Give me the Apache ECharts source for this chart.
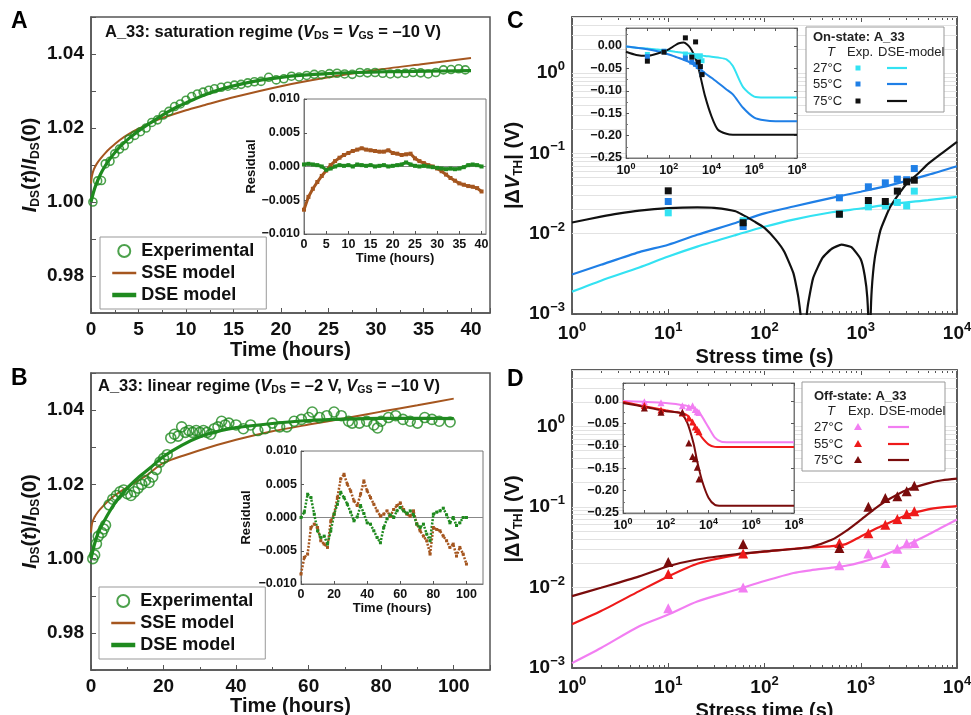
<!DOCTYPE html>
<html>
<head>
<meta charset="utf-8">
<title>A_33 stress</title>
<script src="https://cdn.jsdelivr.net/npm/echarts@6/dist/echarts.min.js"></script>
<style>
  html, body { margin: 0; padding: 0; background: #fff; }
  #chart { width: 971px; height: 715px; }
</style>
</head>
<body>
<div id="chart"></div>
<script>
// ---------- panel A : saturation regime ----------
var hoursA = [0.2, 0.7, 1.1, 1.5, 2.0, 2.5, 3.0, 3.5, 4.0, 4.6,
  5.2, 5.8, 6.4, 7.0, 7.6, 8.2, 8.8, 9.4, 10.0, 10.6,
  11.2, 11.8, 12.4, 13.0, 13.7, 14.4, 15.1, 15.8, 16.5, 17.2,
  17.9, 18.7, 19.5, 20.3, 21.1, 21.9, 22.7, 23.5, 24.3, 25.1,
  25.9, 26.7, 27.5, 28.3, 29.1, 29.9, 30.7, 31.5, 32.3, 33.1,
  33.9, 34.7, 35.5, 36.3, 37.1, 37.9, 38.7, 39.4];
var expA = [1.0000, 1.0057, 1.0058, 1.0103, 1.0110, 1.0130, 1.0143, 1.0152, 1.0170, 1.0180,
  1.0190, 1.0200, 1.0215, 1.0222, 1.0235, 1.0245, 1.0258, 1.0265, 1.0275, 1.0285,
  1.0292, 1.0297, 1.0302, 1.0306, 1.0310, 1.0313, 1.0316, 1.0318, 1.0322, 1.0325,
  1.0326, 1.0337, 1.0330, 1.0333, 1.0340, 1.0338, 1.0342, 1.0345, 1.0344, 1.0347,
  1.0348, 1.0346, 1.0345, 1.0350, 1.0349, 1.0350, 1.0348, 1.0346, 1.0347, 1.0348,
  1.0350, 1.0349, 1.0346, 1.0350, 1.0357, 1.0358, 1.0360, 1.0357];
var dseHoursA = [0, 0.25, 0.5, 1, 1.5, 2, 3, 4, 5, 6, 7, 8, 9, 10, 12, 14, 16, 18, 20, 22, 25, 28, 31, 34, 37, 40];
var dseA = [1.0000, 1.0025, 1.0045, 1.0075, 1.0098, 1.0117, 1.0148, 1.0172, 1.0192, 1.0210, 1.0226, 1.0242, 1.0256,
  1.0268, 1.0290, 1.0307, 1.0320, 1.0330, 1.0337, 1.0342, 1.0347, 1.0350, 1.0352, 1.0353, 1.0354, 1.0355];
var sseHoursA = [0, 0.1, 0.3, 0.6, 1, 1.5, 2, 3, 4, 5, 7, 10, 12, 15, 20, 25, 30, 35, 40];
var sseA = [1.0050, 1.0070, 1.0088, 1.0103, 1.0117, 1.0132, 1.0145, 1.0167, 1.0184, 1.0198, 1.0222, 1.0248,
  1.0262, 1.0283, 1.0313, 1.0337, 1.0357, 1.0373, 1.0389];
var resHoursA = [0, 1, 2, 3, 4, 5, 6, 7, 8, 9, 10, 11, 12, 13, 14, 15, 16, 17, 18, 19, 20,
  21, 22, 23, 24, 25, 26, 27, 28, 29, 30, 31, 32, 33, 34, 35, 36, 37, 38, 39, 40];
var sseResA = [-0.0064, -0.0045, -0.0033, -0.0023, -0.0014, -0.0006, 0.0002, 0.0008, 0.0013, 0.0017,
  0.0020, 0.0023, 0.0025, 0.0027, 0.0025, 0.0024, 0.0023, 0.0022, 0.0022, 0.0024,
  0.0020, 0.0019, 0.0017, 0.0018, 0.0019, 0.0012, 0.0008, 0.0005, 0.0002, 0.0000,
  -0.0003, -0.0007, -0.0012, -0.0017, -0.0021, -0.0025, -0.0027, -0.0029, -0.0030, -0.0032, -0.0037];
var dseResA = [0.0003, 0.0004, 0.0003, 0.0002, 0.0000, -0.0005, -0.0003, 0.0000, 0.0002, 0.0001,
  0.0002, 0.0000, 0.0003, 0.0002, 0.0001, 0.0002, 0.0000, 0.0001, 0.0002, 0.0000,
  0.0001, 0.0002, 0.0003, 0.0006, 0.0003, 0.0001, 0.0000, 0.0001, 0.0000, -0.0001,
  -0.0002, -0.0003, -0.0004, -0.0003, -0.0004, -0.0003, -0.0001, 0.0002, 0.0003, 0.0002, 0.0000];

// ---------- panel B : linear regime ----------
var hoursB = [0.5, 1, 1.5, 2, 3, 3.5, 4,
  5, 6, 7, 8, 9, 10, 11, 12, 13, 14,
  15, 16, 17, 18, 19, 20, 21, 22, 23, 24,
  25, 26, 27, 28, 29, 30, 31, 32, 33, 34,
  35, 36, 37, 38,
  40, 42, 44, 46, 48, 50, 52, 54, 56, 58, 60,
  61, 63, 65, 67, 69, 71, 72, 74, 76, 78,
  79, 80, 82, 84, 86, 88, 90, 92, 94, 96, 99];
var expB = [1.000, 1.001, 1.004, 1.006, 1.007, 1.008, 1.009,
  1.0145, 1.016, 1.017, 1.018, 1.0185, 1.0175, 1.017, 1.018, 1.019, 1.020,
  1.021, 1.0205, 1.022, 1.024, 1.026, 1.027, 1.028, 1.0325, 1.0335, 1.033,
  1.0355, 1.034, 1.0345, 1.034, 1.0345, 1.034, 1.0345, 1.034, 1.0335, 1.035,
  1.0355, 1.037, 1.036, 1.0365,
  1.036, 1.035, 1.036, 1.0345, 1.035, 1.0365, 1.0355, 1.0355, 1.037, 1.0375, 1.038,
  1.0395, 1.038, 1.0385, 1.0395, 1.0385, 1.037, 1.0365, 1.0365, 1.037, 1.036,
  1.0352, 1.037, 1.038, 1.0385, 1.0375, 1.037, 1.0365, 1.038, 1.0375, 1.037, 1.0368];
var dseHoursB = [0, 1, 2, 3, 5, 7, 10, 13, 16, 20, 25, 30, 35, 40, 50, 60, 70, 80, 90, 100];
var dseB = [1.000, 1.004, 1.007, 1.009, 1.0125, 1.0155, 1.0190, 1.0218, 1.0242, 1.0275, 1.0305, 1.0328,
  1.0343, 1.0353, 1.0364, 1.0372, 1.0376, 1.0378, 1.0378, 1.0377];
var sseHoursB = [0, 0.3, 1, 2, 3, 5, 8, 10, 15, 20, 30, 40, 50, 60, 70, 80, 90, 100];
var sseB = [1.0070, 1.0095, 1.0112, 1.0127, 1.0138, 1.0158, 1.0180, 1.0192, 1.0222, 1.0258, 1.0292, 1.0320,
  1.0343, 1.0361, 1.0378, 1.0396, 1.0413, 1.0431];
var resHoursB = [0, 2, 4, 6, 8, 10, 12, 14, 16, 18, 20, 22, 24, 26, 28, 30, 32, 34, 36, 38, 40,
  42, 44, 46, 48, 50, 52, 54, 56, 58, 60, 62, 64, 66, 68, 70, 72, 74, 76, 78, 80,
  82, 84, 86, 88, 90, 92, 94, 96, 98, 100];
var dseResB = [0.0000, 0.0008, 0.0035, 0.0030, 0.0005, -0.0020, -0.0030, -0.0028, -0.0040, -0.0020,
  0.0005, 0.0020, 0.0038, 0.0030, 0.0020, 0.0008, -0.0005, 0.0001, 0.0018, 0.0006,
  -0.0008, -0.0010, -0.0020, -0.0030, -0.0038, -0.0015, -0.0002, 0.0004, 0.0000, 0.0010,
  0.0015, 0.0010, 0.0006, 0.0010, 0.0004, -0.0010, -0.0015, -0.0010, -0.0025, -0.0035,
  0.0005, 0.0008, 0.0010, 0.0014, 0.0004, -0.0008, 0.0000, -0.0012, -0.0008, 0.0000, 0.0000];
var sseResB = [-0.0085, -0.0060, -0.0055, -0.0015, -0.0010, -0.0015, -0.0035, -0.0040, -0.0045, -0.0005,
  0.0005, 0.0030, 0.0058, 0.0065, 0.0050, 0.0040, 0.0025, 0.0018, 0.0035, 0.0055,
  0.0040, 0.0030, 0.0020, 0.0010, 0.0002, 0.0005, 0.0010, 0.0002, 0.0012, 0.0018,
  0.0022, 0.0012, 0.0005, 0.0002, 0.0010, -0.0010, -0.0020, -0.0028, -0.0035, -0.0055,
  -0.0015, -0.0018, -0.0020, -0.0028, -0.0035, -0.0045, -0.0040, -0.0058, -0.0045, -0.0055, -0.0070];

// ---------- panels C / D : stress times of the measurements ----------
var stressT = [10, 60, 600, 1200, 1800, 2400, 3000, 3600];

// C: on-state, |dVth| (main) and signed dVth (inset)
var onExp27 = [0.0182, 0.0145, 0.0175, 0.0216, 0.0222, 0.0245, 0.0222, 0.0339];
var onExp55 = [0.0252, 0.0123, 0.0280, 0.0384, 0.0430, 0.0478, 0.0470, 0.0648];
var onExp75 = [0.0342, 0.0137, 0.0175, 0.0259, 0.0252, 0.0339, 0.0443, 0.0464];
var onIns27 = [-0.019, -0.012, -0.018, -0.021, -0.022, -0.024, -0.022, -0.033];
var onIns55 = [-0.024, -0.012, -0.027, -0.036, -0.041, -0.046, -0.047, -0.062];
var onIns75 = [-0.034, -0.014, 0.018, -0.025, 0.009, -0.036, -0.046, -0.064];
var onT = [1, 2, 5, 10, 20, 50, 100, 200, 500, 1000, 2000, 5000, 10000];
var on27 = [0.0019, 0.0026, 0.0038, 0.0052, 0.0069, 0.0096, 0.0122, 0.0150, 0.0185, 0.0206, 0.0232, 0.0262, 0.0288];
var on55 = [0.0031, 0.0041, 0.0059, 0.0073, 0.0097, 0.0136, 0.0179, 0.0218, 0.0280, 0.0333, 0.0400, 0.0540, 0.0693];
var on75T = [1, 2, 3, 5, 10, 20, 30, 50, 80, 100, 130, 160, 200, 225, 245, 252, 260, 280, 320, 400,
  500, 630, 800, 1000, 1100, 1170, 1215, 1235, 1260, 1300, 1400, 1600, 2000, 2500, 3000, 4000, 5000, 7000, 10000];
var on75 = [0.0138, 0.0163, 0.0178, 0.0194, 0.0208, 0.0213, 0.0210, 0.0190, 0.0140, 0.0118,
  0.0085, 0.0060, 0.0032, 0.0016, 0.0006, 0.0001, 0.0004, 0.0012, 0.0028, 0.0050,
  0.0065, 0.0073, 0.0068, 0.0048, 0.0030, 0.0016, 0.0005, 0.0001, 0.0007, 0.0020,
  0.0050, 0.0110, 0.0210, 0.0315, 0.0420, 0.0570, 0.0740, 0.1010, 0.1390];
var onInsT = [1, 3, 10, 30, 100, 200, 300, 500, 1000, 2000, 3000, 5000, 1e4, 2e4, 5e4, 1e5, 3e5, 1e6, 3e6, 1e7, 1e8];
var onInsM27 = [-0.0015, -0.004, -0.006, -0.008, -0.011, -0.013, -0.014, -0.0155, -0.017, -0.020, -0.021,
  -0.0225, -0.024, -0.026, -0.030, -0.045, -0.092, -0.113, -0.115, -0.115, -0.115];
var onInsM55 = [-0.0015, -0.004, -0.0075, -0.012, -0.019, -0.024, -0.027, -0.031, -0.037, -0.046, -0.052,
  -0.061, -0.071, -0.082, -0.097, -0.108, -0.138, -0.160, -0.166, -0.168, -0.168];
var onInsM75 = [-0.013, -0.020, -0.022, -0.017, -0.0075, 0.0015, 0.006, 0.0075, -0.004, -0.034, -0.067,
  -0.112, -0.157, -0.187, -0.196, -0.198, -0.198, -0.198, -0.198, -0.198, -0.198];

// D: off-state
var offExp27 = [0.0055, 0.0100, 0.0188, 0.0263, 0.0201, 0.0303, 0.0350, 0.0356];
var offExp55 = [0.0147, 0.0263, 0.0357, 0.0470, 0.0600, 0.0708, 0.0817, 0.0880];
var offExp75 = [0.0207, 0.0347, 0.0309, 0.1000, 0.1290, 0.1350, 0.1560, 0.1830];
var offIns27 = [-0.002, -0.004, -0.011, -0.014, -0.011, -0.019, -0.024, -0.026];
var offIns55 = [-0.010, -0.020, -0.027, -0.038, -0.047, -0.058, -0.064, -0.069];
var offIns75 = [-0.016, -0.025, -0.025, -0.094, -0.124, -0.129, -0.148, -0.174];
var offT = [1, 2, 5, 10, 20, 50, 100, 200, 300, 500, 700, 1000, 1500, 2000, 3000, 5000, 7000, 10000];
var off27 = [0.00115, 0.00177, 0.0033, 0.0046, 0.0067, 0.0093, 0.0120, 0.0151, 0.0163, 0.0176, 0.0186,
  0.0205, 0.0237, 0.0270, 0.0335, 0.0452, 0.0560, 0.0695];
var off55 = [0.0035, 0.0051, 0.0090, 0.0137, 0.0197, 0.0252, 0.0278, 0.0302, 0.0315, 0.0325, 0.0345,
  0.0430, 0.0550, 0.0640, 0.0790, 0.0930, 0.0985, 0.1020];
var off75 = [0.0078, 0.0099, 0.0137, 0.0183, 0.0222, 0.0258, 0.0280, 0.0300, 0.0318, 0.0390, 0.0500,
  0.0690, 0.1010, 0.1260, 0.1620, 0.1960, 0.2140, 0.2240];
var offInsT = [1, 10, 100, 300, 500, 1000, 2000, 3000, 5000, 1e4, 2e4, 4e4, 1e5, 1e6, 1e7, 1e8];
var offInsM27 = [0.000, -0.002, -0.0045, -0.007, -0.009, -0.011, -0.016, -0.021, -0.035, -0.059, -0.082,
  -0.091, -0.092, -0.092, -0.092, -0.092];
var offInsM55 = [-0.002, -0.012, -0.021, -0.025, -0.027, -0.032, -0.051, -0.066, -0.082, -0.097, -0.1025,
  -0.103, -0.103, -0.103, -0.103, -0.103];
var offInsM75 = [-0.0045, -0.013, -0.023, -0.025, -0.027, -0.048, -0.095, -0.136, -0.178, -0.216, -0.232,
  -0.234, -0.234, -0.234, -0.234, -0.234];

var tempNames = ['27°C', '55°C', '75°C'];
var gridDecades = [0.001, 0.01, 0.1, 1];
var gridMults = [1, 2, 3, 4, 5, 6, 7, 8, 9];

// ---------- styling ----------
var FONT = '"Liberation Sans", Arial, Helvetica, sans-serif';
var AXC = '#555';
var GREEN = '#1f8a1f', BROWN = '#a5561f';
var CYAN = '#33e2f2', BLUE = '#1f7fe6', BLACK = '#111111';
var PINK = '#f27ef2', RED = '#ee1a1a', DARK = '#7a0c0c';

function pairs(xs, ys) {
  return xs.map(function (x, i) { return [x, ys[i]]; });
}

function mkAxis(o) {
  var base = {
    axisLine: { show: true, onZero: false, lineStyle: { color: AXC, width: 1.5 } },
    axisTick: { show: true, inside: true, length: 5, lineStyle: { color: AXC, width: 1 } },
    splitLine: { show: false },
    axisLabel: { color: '#111', fontWeight: 'bold', fontFamily: FONT, fontSize: 19, margin: 7 },
    nameLocation: 'middle',
    nameTextStyle: { color: '#111', fontWeight: 'bold', fontFamily: FONT, fontSize: 20 }
  };
  for (var k in o) {
    if (base[k] && typeof base[k] === 'object' && typeof o[k] === 'object' && !Array.isArray(o[k])) {
      base[k] = Object.assign({}, base[k], o[k]);
    } else {
      base[k] = o[k];
    }
  }
  return base;
}

var SUB_RICH = {
  it: { fontStyle: 'italic', fontWeight: 'bold', fontFamily: FONT, fontSize: 20, lineHeight: 24 },
  sub: { fontWeight: 'bold', fontFamily: FONT, fontSize: 12, lineHeight: 12, verticalAlign: 'bottom' }
};

function powLabel(v) {
  var e = Math.log10(v), r = Math.round(e);
  if (Math.abs(e - r) > 1e-6) return '';
  return '10{s|' + (r < 0 ? '−' + (-r) : r) + '}';
}
function powLabelEven(v) {
  var e = Math.log10(v), r = Math.round(e);
  if (Math.abs(e - r) > 1e-6 || r % 2 !== 0) return '';
  return '10{s|' + r + '}';
}
var SUP_BIG = { s: { fontSize: 13, fontWeight: 'bold', fontFamily: FONT, lineHeight: 13, verticalAlign: 'top' } };
var SUP_SMALL = { s: { fontSize: 9, fontWeight: 'bold', fontFamily: FONT, lineHeight: 9, verticalAlign: 'top' } };

function fixedLabel(dec, step) {
  return function (v) {
    var n = v / step;
    if (Math.abs(n - Math.round(n)) > 1e-6) return '';
    var s = Math.abs(v).toFixed(dec);
    return (v < -1e-9 ? '−' : '') + s;
  };
}

var INS_LABEL = { fontSize: 12.5, margin: 4 };
var INS_NAME = { fontSize: 13 };

// ---------- grids ----------
var grids = [
  { left: 91, top: 17, width: 399, height: 296 },           // 0 A
  { left: 304, top: 99, width: 182, height: 135, z: 5 },    // 1 A inset
  { left: 91, top: 373, width: 399, height: 297 },          // 2 B
  { left: 301, top: 451, width: 182, height: 133, z: 5 },   // 3 B inset
  { left: 572, top: 17, width: 385, height: 297 },          // 4 C
  { left: 626, top: 28, width: 171, height: 130, z: 5 },    // 5 C inset
  { left: 572, top: 370, width: 385, height: 298 },         // 6 D
  { left: 623, top: 383, width: 171, height: 130, z: 5 }    // 7 D inset
].map(function (g) {
  return Object.assign({
    show: true, containLabel: false, outerBoundsMode: 'none',
    backgroundColor: '#fff', borderColor: AXC, borderWidth: 1.5
  }, g);
});
grids[1].borderColor = grids[3].borderColor = grids[5].borderColor = grids[7].borderColor = '#777';
grids[1].borderWidth = grids[3].borderWidth = grids[5].borderWidth = grids[7].borderWidth = 1;

var INZ = 6;
var xAxes = [
  mkAxis({ gridIndex: 0, type: 'value', min: 0, max: 42, interval: 5,
    minorTick: { show: true, splitNumber: 2, length: 3, lineStyle: { color: AXC } },
    axisLabel: { showMaxLabel: false }, name: 'Time (hours)', nameGap: 27 }),
  mkAxis({ gridIndex: 1, type: 'value', min: 0, max: 41, interval: 5, z: INZ,
    axisLine: { lineStyle: { color: '#777', width: 1 } }, axisTick: { length: 3 },
    axisLabel: Object.assign({ showMaxLabel: false }, INS_LABEL),
    name: 'Time (hours)', nameGap: 18, nameTextStyle: INS_NAME }),
  mkAxis({ gridIndex: 2, type: 'value', min: 0, max: 110, interval: 20,
    minorTick: { show: true, splitNumber: 2, length: 3, lineStyle: { color: AXC } },
    axisLabel: { showMaxLabel: false }, name: 'Time (hours)', nameGap: 25 }),
  mkAxis({ gridIndex: 3, type: 'value', min: 0, max: 110, interval: 20, z: INZ,
    axisLine: { lineStyle: { color: '#777', width: 1 } }, axisTick: { length: 3 },
    axisLabel: Object.assign({ showMaxLabel: false }, INS_LABEL),
    name: 'Time (hours)', nameGap: 18, nameTextStyle: INS_NAME }),
  mkAxis({ gridIndex: 4, type: 'log', logBase: 10, min: 1, max: 1e4,
    minorTick: { show: true, splitNumber: 9, length: 3, lineStyle: { color: AXC } },
    axisLabel: { formatter: powLabel, rich: SUP_BIG, lineHeight: 26 }, name: 'Stress time (s)', nameGap: 27 }),
  mkAxis({ gridIndex: 5, type: 'log', logBase: 10, min: 1, max: 1e8, z: INZ,
    axisLine: { lineStyle: { color: '#777', width: 1 } }, axisTick: { length: 3 },
    axisLabel: Object.assign({ formatter: powLabelEven, rich: SUP_SMALL, lineHeight: 17 }, INS_LABEL) }),
  mkAxis({ gridIndex: 6, type: 'log', logBase: 10, min: 1, max: 1e4,
    minorTick: { show: true, splitNumber: 9, length: 3, lineStyle: { color: AXC } },
    axisLabel: { formatter: powLabel, rich: SUP_BIG, lineHeight: 26 }, name: 'Stress time (s)', nameGap: 27 }),
  mkAxis({ gridIndex: 7, type: 'log', logBase: 10, min: 1, max: 1e8, z: INZ,
    axisLine: { lineStyle: { color: '#777', width: 1 } }, axisTick: { length: 3 },
    axisLabel: Object.assign({ formatter: powLabelEven, rich: SUP_SMALL, lineHeight: 17 }, INS_LABEL) }),
  // mirrored top axes
  mkAxis({ gridIndex: 4, type: 'log', logBase: 10, min: 1, max: 1e4, position: 'top',
    minorTick: { show: true, splitNumber: 9, length: 3, lineStyle: { color: AXC } }, axisLabel: { show: false } }),
  mkAxis({ gridIndex: 6, type: 'log', logBase: 10, min: 1, max: 1e4, position: 'top',
    minorTick: { show: true, splitNumber: 9, length: 3, lineStyle: { color: AXC } }, axisLabel: { show: false } }),
  mkAxis({ gridIndex: 5, type: 'log', logBase: 10, min: 1, max: 1e8, position: 'top', z: INZ,
    axisLine: { lineStyle: { color: '#777', width: 1 } }, axisTick: { length: 3 }, axisLabel: { show: false } }),
  mkAxis({ gridIndex: 7, type: 'log', logBase: 10, min: 1, max: 1e8, position: 'top', z: INZ,
    axisLine: { lineStyle: { color: '#777', width: 1 } }, axisTick: { length: 3 }, axisLabel: { show: false } })
];

var ratioName = '{it|I}{sub|DS}({it|t})/{it|I}{sub|DS}(0)';
var dvName = '|Δ{it|V}{sub|TH}| (V)';
var mainNameStyle = { lineHeight: 24, rich: SUB_RICH };

var yAxes = [
  mkAxis({ gridIndex: 0, type: 'value', min: 0.97, max: 1.05, interval: 0.01,
    axisLabel: { formatter: function (v) { return Math.round(v * 100) % 2 === 0 ? v.toFixed(2) : ''; } },
    name: ratioName, nameGap: 49, nameTextStyle: mainNameStyle }),
  mkAxis({ gridIndex: 1, type: 'value', min: -0.01, max: 0.01, interval: 0.005, z: INZ,
    axisLine: { lineStyle: { color: '#777', width: 1 } }, axisTick: { length: 3 },
    axisLabel: Object.assign({ formatter: fixedLabel(3, 0.005) }, INS_LABEL),
    name: 'Residual', nameGap: 45, nameTextStyle: INS_NAME }),
  mkAxis({ gridIndex: 2, type: 'value', min: 0.97, max: 1.05, interval: 0.01,
    axisLabel: { formatter: function (v) { return Math.round(v * 100) % 2 === 0 ? v.toFixed(2) : ''; } },
    name: ratioName, nameGap: 49, nameTextStyle: mainNameStyle }),
  mkAxis({ gridIndex: 3, type: 'value', min: -0.01, max: 0.01, interval: 0.005, z: INZ,
    axisLine: { lineStyle: { color: '#777', width: 1 } }, axisTick: { length: 3 },
    axisLabel: Object.assign({ formatter: fixedLabel(3, 0.005) }, INS_LABEL),
    name: 'Residual', nameGap: 48, nameTextStyle: INS_NAME }),
  mkAxis({ gridIndex: 4, type: 'log', logBase: 10, min: 0.001, max: 5,
    axisLabel: { formatter: powLabel, rich: SUP_BIG, lineHeight: 26, showMaxLabel: false },
    name: dvName, nameGap: 46, nameTextStyle: mainNameStyle }),
  mkAxis({ gridIndex: 5, type: 'value', min: -0.25, max: 0.04, interval: 0.05, z: INZ,
    axisLine: { lineStyle: { color: '#777', width: 1 } }, axisTick: { length: 3 },
    minorTick: { show: true, splitNumber: 2, length: 2, lineStyle: { color: '#777' } },
    axisLabel: Object.assign({ formatter: fixedLabel(2, 0.05), showMaxLabel: false }, INS_LABEL) }),
  mkAxis({ gridIndex: 6, type: 'log', logBase: 10, min: 0.001, max: 5,
    axisLabel: { formatter: powLabel, rich: SUP_BIG, lineHeight: 26, showMaxLabel: false },
    name: dvName, nameGap: 46, nameTextStyle: mainNameStyle }),
  mkAxis({ gridIndex: 7, type: 'value', min: -0.25, max: 0.04, interval: 0.05, z: INZ,
    axisLine: { lineStyle: { color: '#777', width: 1 } }, axisTick: { length: 3 },
    minorTick: { show: true, splitNumber: 2, length: 2, lineStyle: { color: '#777' } },
    axisLabel: Object.assign({ formatter: fixedLabel(2, 0.05), showMaxLabel: false }, INS_LABEL) }),
  // mirrored right axes
  mkAxis({ gridIndex: 4, type: 'log', logBase: 10, min: 0.001, max: 5, position: 'right',
    axisLabel: { show: false } }),
  mkAxis({ gridIndex: 6, type: 'log', logBase: 10, min: 0.001, max: 5, position: 'right',
    axisLabel: { show: false } }),
  mkAxis({ gridIndex: 5, type: 'value', min: -0.25, max: 0.04, interval: 0.05, position: 'right', z: INZ,
    axisLine: { lineStyle: { color: '#777', width: 1 } }, axisTick: { length: 3 }, axisLabel: { show: false } }),
  mkAxis({ gridIndex: 7, type: 'value', min: -0.25, max: 0.04, interval: 0.05, position: 'right', z: INZ,
    axisLine: { lineStyle: { color: '#777', width: 1 } }, axisTick: { length: 3 }, axisLabel: { show: false } })
];

// ---------- series helpers ----------
function curve(name, gi, data, color, width, extra) {
  return Object.assign({
    name: name, type: 'line', xAxisIndex: gi, yAxisIndex: gi, data: data,
    symbol: 'none', smooth: 0.25, lineStyle: { color: color, width: width },
    itemStyle: { color: color }, animation: false, z: gi % 2 ? 7 : 2
  }, extra || {});
}
function dots(name, gi, data, color, symbol, size, extra) {
  return Object.assign({
    name: name, type: 'scatter', xAxisIndex: gi, yAxisIndex: gi, data: data,
    symbol: symbol, symbolSize: size, itemStyle: { color: color, opacity: 1 },
    animation: false, z: gi % 2 ? 8 : 3
  }, extra || {});
}
function residual(name, gi, data, color, size, lineStyle, extra) {
  return Object.assign({
    name: name, type: 'line', xAxisIndex: gi, yAxisIndex: gi, data: data,
    symbol: 'rect', symbolSize: size, showSymbol: true,
    lineStyle: Object.assign({ color: color }, lineStyle), itemStyle: { color: color },
    animation: false, z: 7
  }, extra || {});
}
var zeroLine = {
  silent: true, symbol: 'none', label: { show: false }, animation: false, z: 7,
  lineStyle: { color: '#888', width: 1, type: 'solid' }, data: [{ yAxis: 0 }]
};
function gridLineSeries(gi) {
  var vals = [];
  gridDecades.forEach(function (d) {
    gridMults.forEach(function (m) { if (d * m <= 5.0001) vals.push(d * m); });
  });
  return {
    name: 'grid' + gi, type: 'line', xAxisIndex: gi, yAxisIndex: gi, data: [[1, 0.001]],
    symbol: 'none', lineStyle: { width: 0 }, silent: true, z: 1, animation: false,
    markLine: {
      silent: true, symbol: 'none', label: { show: false }, animation: false, z: 1,
      lineStyle: { color: '#e2e2e2', width: 1, type: 'solid' },
      emphasis: { disabled: true },
      data: vals.map(function (v) { return { yAxis: v }; })
    }
  };
}
var EXP_STYLE = function (c) { return { color: 'rgba(255,255,255,0)', borderColor: c, borderWidth: 1.6 }; };

var series = [
  // A
  { name: 'Experimental', type: 'scatter', xAxisIndex: 0, yAxisIndex: 0, data: pairs(hoursA, expA),
    symbol: 'circle', symbolSize: 8, itemStyle: EXP_STYLE(GREEN), animation: false, z: 2 },
  curve('SSE model', 0, pairs(sseHoursA, sseA), BROWN, 2),
  curve('DSE model', 0, pairs(dseHoursA, dseA), GREEN, 3.2),
  residual('SSE res A', 1, pairs(resHoursA, sseResA), BROWN, 4, { width: 3 }, { markLine: zeroLine }),
  residual('DSE res A', 1, pairs(resHoursA, dseResA), GREEN, 4, { width: 3 }),
  // B
  { name: 'Experimental', type: 'scatter', xAxisIndex: 2, yAxisIndex: 2, data: pairs(hoursB, expB),
    symbol: 'circle', symbolSize: 10, itemStyle: EXP_STYLE(GREEN), animation: false, z: 2 },
  curve('SSE model', 2, pairs(sseHoursB, sseB), BROWN, 2),
  curve('DSE model', 2, pairs(dseHoursB, dseB), GREEN, 3.2),
  residual('SSE res B', 3, pairs(resHoursB, sseResB), BROWN, 3, { width: 2.5, type: [2, 1.5] }, { markLine: zeroLine }),
  residual('DSE res B', 3, pairs(resHoursB, dseResB), GREEN, 3, { width: 2.5, type: [2, 1.5] }),
  // C
  gridLineSeries(4),
  curve('on27', 4, pairs(onT, on27), CYAN, 2.2),
  curve('on55', 4, pairs(onT, on55), BLUE, 2.2),
  curve('on75', 4, pairs(on75T, on75), BLACK, 2.2, { smooth: 0.15 }),
  dots('onE27', 4, pairs(stressT, onExp27), CYAN, 'rect', 7),
  dots('onE55', 4, pairs(stressT, onExp55), BLUE, 'rect', 7),
  dots('onE75', 4, pairs(stressT, onExp75), BLACK, 'rect', 7),
  curve('onI27', 5, pairs(onInsT, onInsM27), CYAN, 2),
  curve('onI55', 5, pairs(onInsT, onInsM55), BLUE, 2),
  curve('onI75', 5, pairs(onInsT, onInsM75), BLACK, 2),
  dots('onIE27', 5, pairs(stressT, onIns27), CYAN, 'rect', 5),
  dots('onIE55', 5, pairs(stressT, onIns55), BLUE, 'rect', 5),
  dots('onIE75', 5, pairs(stressT, onIns75), BLACK, 'rect', 5),
  // D
  gridLineSeries(6),
  curve('off27', 6, pairs(offT, off27), PINK, 2.2),
  curve('off55', 6, pairs(offT, off55), RED, 2.2),
  curve('off75', 6, pairs(offT, off75), DARK, 2.2),
  dots('offE27', 6, pairs(stressT, offExp27), PINK, 'triangle', 10),
  dots('offE55', 6, pairs(stressT, offExp55), RED, 'triangle', 10),
  dots('offE75', 6, pairs(stressT, offExp75), DARK, 'triangle', 10),
  curve('offI27', 7, pairs(offInsT, offInsM27), PINK, 2),
  curve('offI55', 7, pairs(offInsT, offInsM55), RED, 2),
  curve('offI75', 7, pairs(offInsT, offInsM75), DARK, 2),
  dots('offIE27', 7, pairs(stressT, offIns27), PINK, 'triangle', 7),
  dots('offIE55', 7, pairs(stressT, offIns55), RED, 'triangle', 7),
  dots('offIE75', 7, pairs(stressT, offIns75), DARK, 'triangle', 7)
];

// ---------- legends ----------
function panelLegend(left, top) {
  return {
    data: [
      'Experimental',
      { name: 'SSE model', itemStyle: { opacity: 0 }, lineStyle: { width: 2.5 } },
      { name: 'DSE model', itemStyle: { opacity: 0 }, lineStyle: { width: 4.5 } }
    ],
    left: left, top: top, orient: 'vertical', selectedMode: false,
    padding: [5, 12, 5, 10], itemGap: 4, itemWidth: 24, itemHeight: 12,
    borderColor: '#999', borderWidth: 1, backgroundColor: '#fff', borderRadius: 0,
    textStyle: { fontSize: 18, fontWeight: 'bold', color: '#111', fontFamily: FONT }
  };
}

function gtext(x, y, text, extra) {
  return {
    type: 'text', x: x, y: y, z: 30,
    style: Object.assign({ text: text, fontSize: 13, fontFamily: FONT, fill: '#222', verticalAlign: 'middle' }, extra || {})
  };
}
function tableLegend(x, y, w, h, title, lay, colors, shape) {
  var kids = [{ type: 'rect', z: 29, shape: { x: 0, y: 0, width: w, height: h },
    style: { fill: '#fff', stroke: '#999', lineWidth: 1 } }];
  kids.push(gtext(lay.tx, lay.ty, title, { fontWeight: 'bold' }));
  kids.push(gtext(lay.hT, lay.hy, 'T', { fontStyle: 'italic' }));
  kids.push(gtext(lay.hE, lay.hy, 'Exp.'));
  kids.push(gtext(lay.hD, lay.hy, 'DSE-model'));
  tempNames.forEach(function (n, i) {
    var ry = lay.rows[i];
    kids.push(gtext(lay.tx, ry, n));
    if (shape === 'rect') {
      kids.push({ type: 'rect', z: 30, shape: { x: lay.mx - 2.5, y: ry - 2.5, width: 5, height: 5 }, style: { fill: colors[i] } });
    } else {
      kids.push({ type: 'polygon', z: 30, shape: { points: [[lay.mx, ry - 4], [lay.mx - 4, ry + 3], [lay.mx + 4, ry + 3]] },
        style: { fill: colors[i] } });
    }
    kids.push({ type: 'line', z: 30, shape: { x1: lay.l1, y1: ry, x2: lay.l2, y2: ry },
      style: { stroke: colors[i], lineWidth: 2.2 } });
  });
  return { type: 'group', x: x, y: y, children: kids };
}

var TITLE_RICH = {
  i: { fontStyle: 'italic', fontWeight: 'bold', fontFamily: FONT, fontSize: 16.5, lineHeight: 20 },
  s: { fontWeight: 'bold', fontFamily: FONT, fontSize: 10.5, lineHeight: 10, verticalAlign: 'bottom' }
};
function panelTitle(x, y, text) {
  return { type: 'text', x: x, y: y, z: 30,
    style: { text: text, fontSize: 16.5, fontWeight: 'bold', fontFamily: FONT, fill: '#111',
      verticalAlign: 'middle', lineHeight: 20, rich: TITLE_RICH } };
}
function letter(x, y, t) {
  return { type: 'text', x: x, y: y, z: 30,
    style: { text: t, fontSize: 23, fontWeight: 'bold', fontFamily: FONT, fill: '#000', verticalAlign: 'middle' } };
}

var graphics = [
  letter(11, 22, 'A'), letter(11, 379, 'B'), letter(507, 22, 'C'), letter(507, 380, 'D'),
  panelTitle(105, 32, 'A_33: saturation regime ({i|V}{s|DS} = {i|V}{s|GS} = –10 V)'),
  panelTitle(98, 386, 'A_33: linear regime ({i|V}{s|DS} = –2 V, {i|V}{s|GS} = –10 V)'),
  tableLegend(806, 27, 138, 85, 'On-state: A_33',
    { tx: 7, ty: 10, hT: 21, hE: 41, hD: 72, hy: 25, rows: [41, 57, 74], mx: 52, l1: 81, l2: 101 },
    [CYAN, BLUE, BLACK], 'rect'),
  tableLegend(802, 382, 143, 89, 'Off-state: A_33',
    { tx: 12, ty: 14, hT: 25, hE: 46, hD: 77, hy: 29, rows: [45, 62, 78], mx: 56, l1: 86, l2: 107 },
    [PINK, RED, DARK], 'triangle')
];

var chart = echarts.init(document.getElementById('chart'), null, { renderer: 'canvas' });
chart.setOption({
  animation: false,
  backgroundColor: '#fff',
  textStyle: { fontFamily: FONT },
  grid: grids,
  xAxis: xAxes,
  yAxis: yAxes,
  legend: [panelLegend(100, 237), panelLegend(99, 587)],
  series: series,
  graphic: graphics
});
</script>
</body>
</html>
